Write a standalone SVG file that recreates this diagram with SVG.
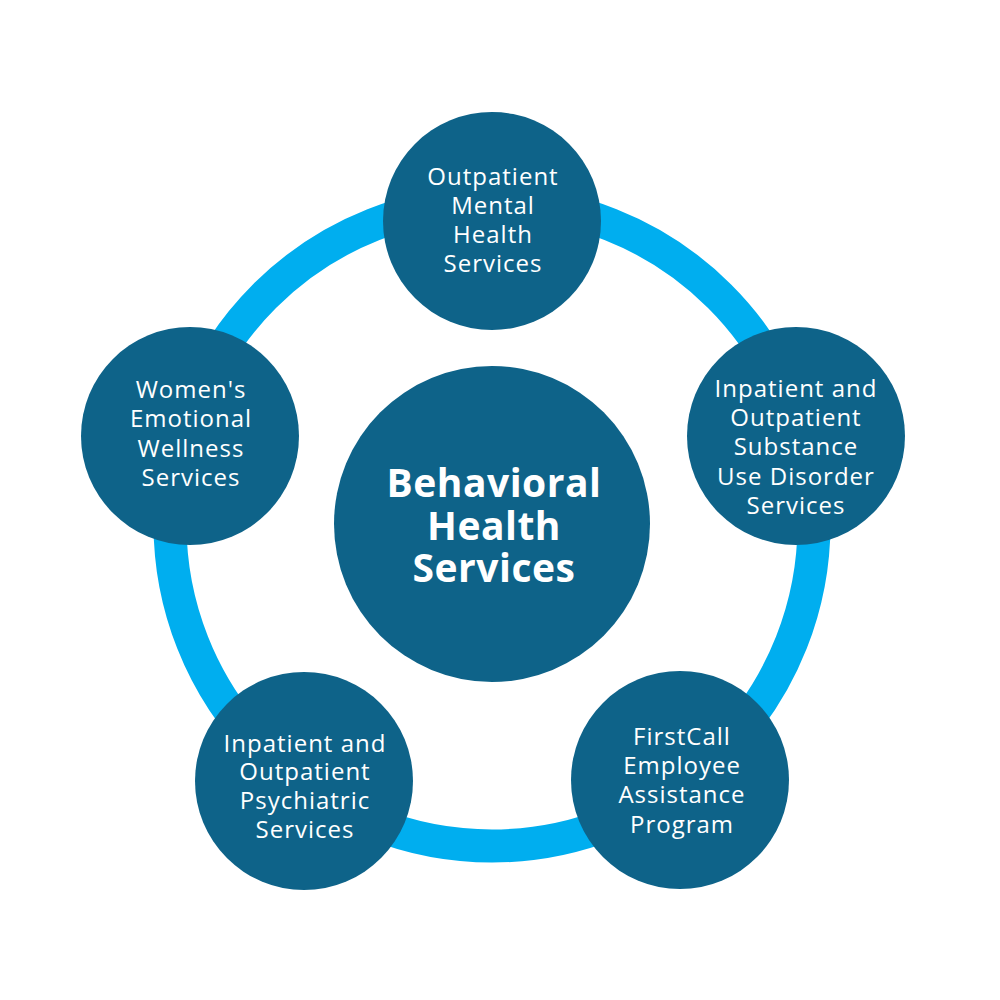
<svg xmlns="http://www.w3.org/2000/svg" width="1000" height="1000" viewBox="0 0 1000 1000">
<style>
.node{fill:#0E6389}
.lbl{fill:#fff;font-family:"Open Sans","Liberation Sans",sans-serif;font-size:24px;text-anchor:middle;letter-spacing:1px}
.title{fill:#fff;font-family:"Open Sans","Liberation Sans",sans-serif;font-size:39px;font-weight:bold;text-anchor:middle;letter-spacing:0.5px}
</style>
<rect width="1000" height="1000" fill="#fff"/>
<g id="connectors">
<circle cx="492" cy="524" r="322" fill="none" stroke="#00AEEF" stroke-width="33"/>
</g>
<g id="center">
<circle class="node" cx="492" cy="524" r="158"/>
<text class="title"><tspan x="494" y="497">Behavioral</tspan><tspan x="494" y="540">Health</tspan><tspan x="494" y="582">Services</tspan></text>
</g>
<g id="outpatient-mental">
<circle class="node" cx="492" cy="221" r="109"/>
<text class="lbl"><tspan x="493" y="185">Outpatient</tspan><tspan x="493" y="214">Mental</tspan><tspan x="493" y="243">Health</tspan><tspan x="493" y="272">Services</tspan></text>
</g>
<g id="substance-use">
<circle class="node" cx="796" cy="436" r="109"/>
<text class="lbl"><tspan x="796" y="397">Inpatient and</tspan><tspan x="796" y="426">Outpatient</tspan><tspan x="796" y="455">Substance</tspan><tspan x="796" y="485">Use Disorder</tspan><tspan x="796" y="514">Services</tspan></text>
</g>
<g id="firstcall">
<circle class="node" cx="680" cy="780" r="109"/>
<text class="lbl"><tspan x="682" y="745">FirstCall</tspan><tspan x="682" y="774">Employee</tspan><tspan x="682" y="803">Assistance</tspan><tspan x="682" y="833">Program</tspan></text>
</g>
<g id="psychiatric">
<circle class="node" cx="304" cy="781" r="109"/>
<text class="lbl"><tspan x="305" y="752">Inpatient and</tspan><tspan x="305" y="780">Outpatient</tspan><tspan x="305" y="809">Psychiatric</tspan><tspan x="305" y="838">Services</tspan></text>
</g>
<g id="womens-wellness">
<circle class="node" cx="190" cy="436" r="109"/>
<text class="lbl"><tspan x="191" y="398">Women's</tspan><tspan x="191" y="427">Emotional</tspan><tspan x="191" y="457">Wellness</tspan><tspan x="191" y="486">Services</tspan></text>
</g>
</svg>
